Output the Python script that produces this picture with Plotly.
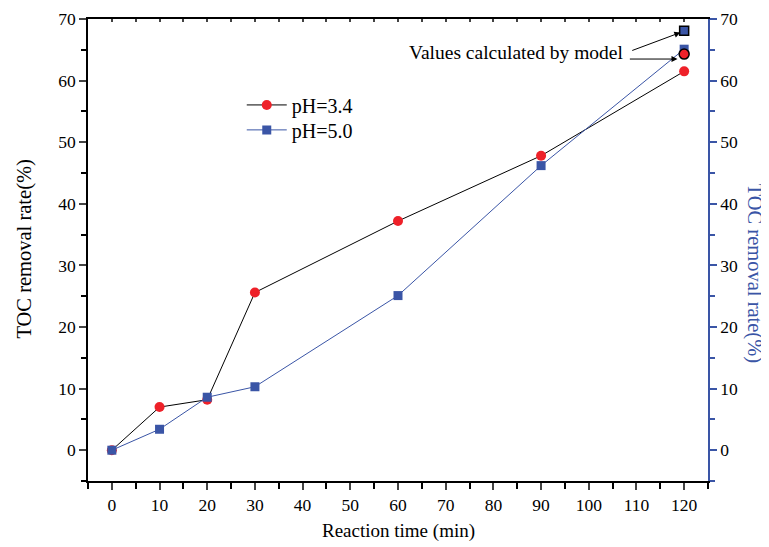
import plotly.graph_objects as go

time_min = [0, 10, 20, 30, 60, 90, 120]
ph34 = [0, 7.0, 8.2, 25.6, 37.2, 47.8, 61.5]
ph50 = [0, 3.4, 8.6, 10.3, 25.1, 46.2, 65.1]
model_time = [120]
model_ph34 = [64.3]
model_ph50 = [68.1]
y_ticks = [0, 10, 20, 30, 40, 50, 60, 70]
x_ticks = [0, 10, 20, 30, 40, 50, 60, 70, 80, 90, 100, 110, 120]

RED = "#ee2129"
BLUE = "#3a55a6"
FONT = "Liberation Serif"

fig = go.Figure()
fig.add_trace(go.Scatter(x=time_min, y=ph34, mode="lines+markers", name="pH=3.4",
                         legend="legend",
                         line=dict(color="black", width=1),
                         marker=dict(symbol="circle", size=10, color=RED)))
fig.add_trace(go.Scatter(x=time_min, y=ph50, mode="lines+markers", name="pH=5.0",
                         legend="legend2",
                         line=dict(color=BLUE, width=1),
                         marker=dict(symbol="square", size=9, color=BLUE)))
fig.add_trace(go.Scatter(x=model_time, y=model_ph34, mode="markers", showlegend=False,
                         marker=dict(symbol="circle", size=10, color=RED,
                                     line=dict(color="black", width=1.5))))
fig.add_trace(go.Scatter(x=model_time, y=model_ph50, mode="markers", showlegend=False,
                         marker=dict(symbol="square", size=9, color=BLUE,
                                     line=dict(color="black", width=1.5))))
# dummy traces to render top and right axes
fig.add_trace(go.Scatter(x=[None], y=[None], xaxis="x2", yaxis="y", showlegend=False, hoverinfo="skip"))
fig.add_trace(go.Scatter(x=[None], y=[None], xaxis="x", yaxis="y2", showlegend=False, hoverinfo="skip"))

axis_font = dict(family=FONT, size=17.5, color="black")
minor_x = [-5, 5, 15, 25, 35, 45, 55, 65, 75, 85, 95, 105, 115, 125]
minor_y = [-5, 5, 15, 25, 35, 45, 55, 65]
legend_style = dict(x=0.248, xanchor="left", yanchor="middle",
                    bgcolor="rgba(0,0,0,0)", font=dict(family=FONT, size=20),
                    itemwidth=40)

# the page body has an 8px margin, so the figure is 8px smaller and margins shifted
fig.update_layout(
    width=761, height=539,
    margin=dict(l=80, r=61, t=11, b=66, autoexpand=False),
    plot_bgcolor="white", paper_bgcolor="white",
    font=dict(family=FONT, size=17, color="black"),
    showlegend=True,
    legend=dict(y=0.814, **legend_style),
    legend2=dict(y=0.760, **legend_style),
    xaxis=dict(range=[-5, 125], tickvals=x_ticks, ticks="outside", ticklen=7,
               tickwidth=1.5, showline=True, linecolor="black", linewidth=1.5,
               showgrid=False, zeroline=False, tickfont=axis_font, automargin=False,
               minor=dict(tickvals=minor_x, ticks="outside", ticklen=6, tickwidth=1.5,
                          tickcolor="black")),
    xaxis2=dict(range=[-5, 125], overlaying="x", side="top", dtick=5, tick0=0,
                ticks="inside", ticklen=3, tickwidth=1.5, showticklabels=False,
                showline=True, linecolor="black", linewidth=1.5, showgrid=False,
                zeroline=False, automargin=False),
    yaxis=dict(range=[-5, 70], tickvals=y_ticks, ticks="outside", ticklen=7,
               tickwidth=1.5, showline=True, linecolor="black", linewidth=1.5,
               showgrid=False, zeroline=False, tickfont=axis_font, automargin=False,
               minor=dict(tickvals=minor_y, ticks="outside", ticklen=5, tickwidth=1.5,
                          tickcolor="black")),
    yaxis2=dict(range=[-5, 70], overlaying="y", side="right", tickvals=y_ticks,
                ticks="outside", ticklen=7, tickwidth=1.5, tickcolor=BLUE,
                showline=True, linecolor=BLUE, linewidth=1.5, showgrid=False,
                zeroline=False, tickfont=axis_font, automargin=False,
                minor=dict(tickvals=minor_y, ticks="outside", ticklen=5, tickwidth=1.5,
                           tickcolor=BLUE)),
)

# axis titles
fig.add_annotation(x=-0.1016, y=0.503, xref="paper", yref="paper", text="TOC removal rate(%)",
                   textangle=-90, showarrow=False, font=dict(family=FONT, size=20.5, color="black"),
                   xanchor="center", yanchor="middle")
fig.add_annotation(x=1.075, y=0.45, xref="paper", yref="paper", text="TOC removal rate(%)",
                   textangle=90, showarrow=False, font=dict(family=FONT, size=20.5, color=BLUE),
                   xanchor="center", yanchor="middle")
fig.add_annotation(x=0.5, y=-0.108, xref="paper", yref="paper", text="Reaction time (min)",
                   showarrow=False, font=dict(family=FONT, size=19, color="black"),
                   xanchor="center", yanchor="middle")

fig.add_annotation(x=107.6, y=64.5, xref="x", yref="y", text="Values calculated by model",
                   showarrow=False, xanchor="right", yanchor="middle",
                   font=dict(family=FONT, size=19.5, color="black"))
fig.add_annotation(x=119.2, y=67.8, xref="x", yref="y", ax=108.8, ay=64.8,
                   axref="x", ayref="y", showarrow=True, arrowhead=2, arrowsize=1.2,
                   arrowwidth=1, arrowcolor="black", text="")
fig.add_annotation(x=118.6, y=63.5, xref="x", yref="y", ax=108.3, ay=63.5,
                   axref="x", ayref="y", showarrow=True, arrowhead=2, arrowsize=1.2,
                   arrowwidth=1, arrowcolor="black", text="")

fig.write_html("out.html")
